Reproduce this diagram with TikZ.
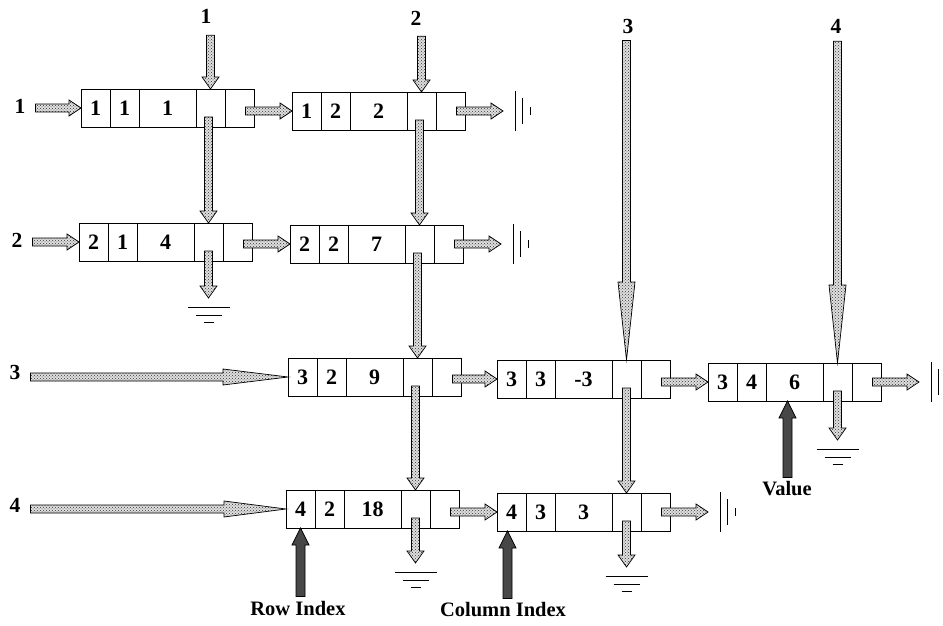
\documentclass[tikz,border=0pt]{standalone}
\usepackage{fontspec}
\setmainfont{Liberation Serif}
\usetikzlibrary{calc,patterns}

\tikzset{
  cell/.style={draw, line width=0.8pt, minimum height=38pt, inner sep=0pt, outer sep=0pt,
    anchor=north west, font=\fontsize{22}{24}\selectfont\bfseries},
  fat/.style={draw, line width=0.7pt, preaction={fill=gray!25}, pattern=crosshatch dots, pattern color=black!80},
  dark/.style={draw, line width=0.7pt, fill=black!72},
  lbl/.style={font=\fontsize{21.5}{24}\selectfont\bfseries, inner sep=1pt},
  txt/.style={font=\fontsize{20.5}{24}\selectfont\bfseries, inner sep=1pt},
  gnd/.style={line width=0.8pt},
}

\newcommand\lnode[6]{%
  \node[cell, minimum width=29pt] (#1-r) at (#2,#3) {#4};
  \node[cell, minimum width=29pt] (#1-c) at (#1-r.north east) {#5};
  \node[cell, minimum width=57pt] (#1-v) at (#1-c.north east) {#6};
  \node[cell, minimum width=29pt] (#1-d) at (#1-v.north east) {};
  \node[cell, minimum width=29pt] (#1-n) at (#1-d.north east) {};
}
\newcommand\harrow[3][12]{%
  \path[fat] let \p1=#2, \p2=#3 in (\x1,\y2+4pt) -- (\x2-#1pt,\y2+4pt) -- (\x2-#1pt,\y2+8pt) -- (\x2,\y2)
    -- (\x2-#1pt,\y2-8pt) -- (\x2-#1pt,\y2-4pt) -- (\x1,\y2-4pt) -- cycle;}
\newcommand\varrow[3][12]{%
  \path[fat] let \p1=#2, \p2=#3 in (\x2-4pt,\y1) -- (\x2-4pt,\y2+#1pt) -- (\x2-8.5pt,\y2+#1pt) -- (\x2,\y2)
    -- (\x2+8.5pt,\y2+#1pt) -- (\x2+4pt,\y2+#1pt) -- (\x2+4pt,\y1) -- cycle;}
\newcommand\uarrow[2]{%
  \path[dark] let \p1=#1, \p2=#2 in (\x2-4.5pt,\y1) -- (\x2-4.5pt,\y2-17pt) -- (\x2-8.5pt,\y2-17pt) -- (\x2,\y2)
    -- (\x2+8.5pt,\y2-17pt) -- (\x2+4.5pt,\y2-17pt) -- (\x2+4.5pt,\y1) -- cycle;}
\newcommand\hground[1]{%
  \draw[gnd] ($(#1)+(-21,9)$) -- ++(42,0) ($(#1)+(-13,17)$) -- ++(26,0) ($(#1)+(-5,24)$) -- ++(10,0);}
\newcommand\vground[1]{%
  \draw[gnd] ($(#1)+(12,-20)$) -- ++(0,40) ($(#1)+(19,-13)$) -- ++(0,26) ($(#1)+(27,-4)$) -- ++(0,8);}

\begin{document}
\begin{tikzpicture}[x=1pt,y=-1pt]
\useasboundingbox (0,0) rectangle (943,626);

% list nodes
\lnode{A}{81}{89}{1}{1}{1}
\lnode{B}{292}{92}{1}{2}{2}
\lnode{C}{79}{223}{2}{1}{4}
\lnode{D}{290}{225}{2}{2}{7}
\lnode{E}{288}{358}{3}{2}{9}
\lnode{F}{497}{360}{3}{3}{-3}
\lnode{G}{708}{363}{3}{4}{6}
\lnode{H}{286}{490}{4}{2}{18}
\lnode{I}{497}{493}{4}{3}{3}

% header labels
\node[lbl] (c1) at (206,16) {1};
\node[lbl] (c2) at (416,18) {2};
\node[lbl] (c3) at (628,26) {3};
\node[lbl] (c4) at (836,26) {4};
\node[lbl] (r1) at (20,106) {1};
\node[lbl] (r2) at (17,240) {2};
\node[lbl] (r3) at (15,372) {3};
\node[lbl] (r4) at (15,505) {4};

% null-end coordinates
\coordinate (B-t) at ($(B-n.east)+(38,0)$);
\coordinate (D-t) at ($(D-n.east)+(38,0)$);
\coordinate (G-t) at ($(G-n.east)+(38,0)$);
\coordinate (I-t) at ($(I-n.east)+(38,0)$);
\coordinate (C-g) at ($(C-d.south)+(0,37)$);
\coordinate (H-g) at ($(H-d.south)+(0,35)$);
\coordinate (I-g) at ($(I-d.south)+(0,36)$);
\coordinate (G-g) at ($(G-d.south)+(0,39)$);

% column arrows
\varrow{($(c1.south)+(0,11)$)}{(A-d.north)}
\varrow{($(A-d.center)+(0,9)$)}{(C-d.north)}
\varrow{($(C-d.center)+(0,9)$)}{(C-g)}
\varrow{($(c2.south)+(0,10)$)}{(B-d.north)}
\varrow{($(B-d.center)+(0,9)$)}{(D-d.north)}
\varrow{($(D-d.center)+(0,9)$)}{(E-d.north)}
\varrow{($(E-d.center)+(0,9)$)}{(H-d.north)}
\varrow{($(H-d.center)+(0,9)$)}{(H-g)}
\varrow[78]{($(c3.south)+(0,6)$)}{(F-d.north)}
\varrow{($(F-d.center)+(0,9)$)}{(I-d.north)}
\varrow{($(I-d.center)+(0,9)$)}{(I-g)}
\varrow[78]{($(c4.south)+(0,7)$)}{(G-d.north)}
\varrow{($(G-d.center)+(0,9)$)}{(G-g)}

% row arrows
\harrow{($(r1.east)+(9,0)$)}{(A-r.west)}
\harrow{($(A-n.center)+(6,0)$)}{(B-r.west)}
\harrow{($(B-n.center)+(6,0)$)}{(B-t)}
\harrow{($(r2.east)+(9,0)$)}{(C-r.west)}
\harrow{($(C-n.center)+(6,0)$)}{(D-r.west)}
\harrow{($(D-n.center)+(6,0)$)}{(D-t)}
\harrow[65]{($(r3.east)+(9,0)$)}{(E-r.west)}
\harrow{($(E-n.center)+(6,0)$)}{(F-r.west)}
\harrow{($(F-n.center)+(6,0)$)}{(G-r.west)}
\harrow{($(G-n.center)+(6,0)$)}{(G-t)}
\harrow[62]{($(r4.east)+(9,0)$)}{(H-r.west)}
\harrow{($(H-n.center)+(6,0)$)}{(I-r.west)}
\harrow{($(I-n.center)+(6,0)$)}{(I-t)}

% null terminators
\vground{B-t}
\vground{D-t}
\vground{G-t}
\vground{I-t}
\hground{C-g}
\hground{H-g}
\hground{I-g}
\hground{G-g}

% explanation labels
\node[txt] (rowidx) at (298,608) {Row Index};
\node[txt] (colidx) at (503,610) {Column Index};
\node[txt] (valuel) at (787,489) {Value};
\uarrow{($(rowidx.north)+(0,-3)$)}{(H-r.south)}
\uarrow{($(colidx.north)+(0,-3)$)}{($(I-r.south)+(-4,0)$)}
\uarrow{($(valuel.north)+(0,-3)$)}{($(G-v.south)+(-7,0)$)}
\end{tikzpicture}
\end{document}
